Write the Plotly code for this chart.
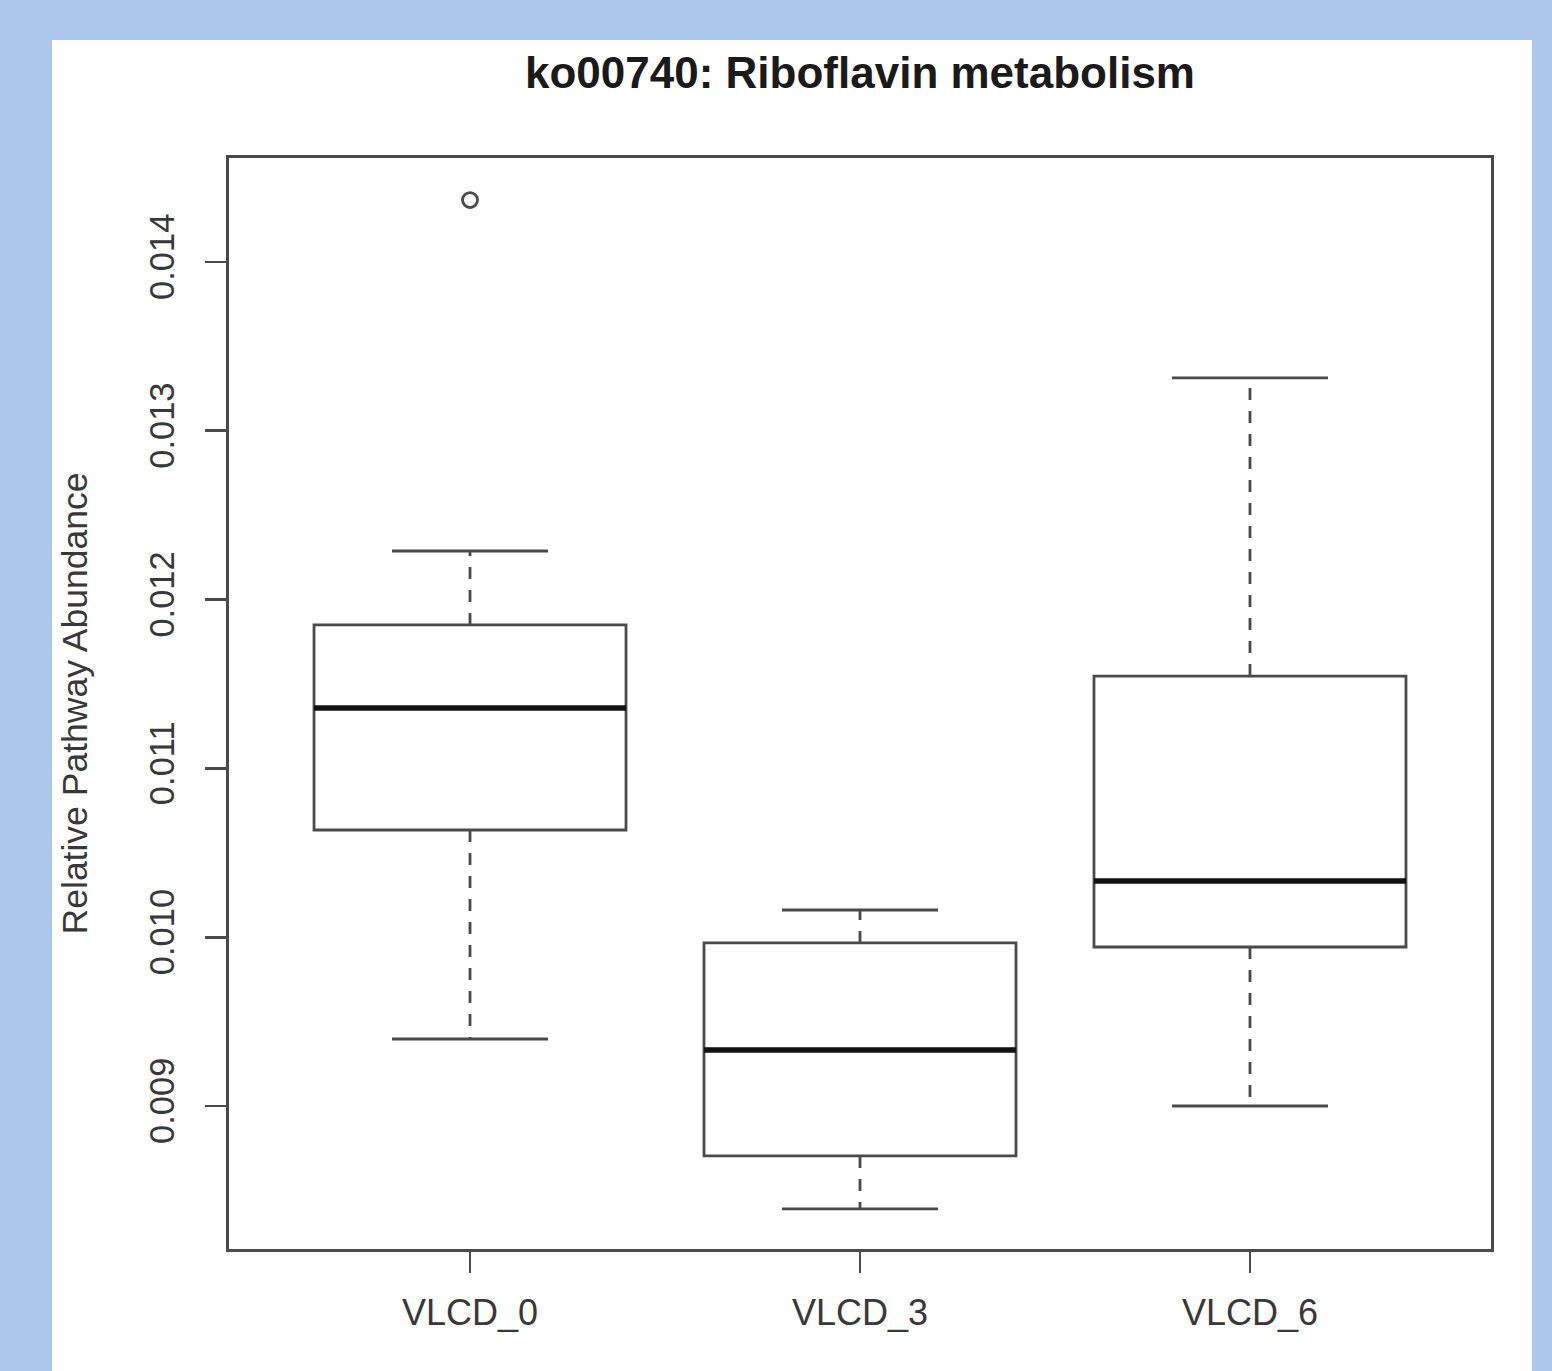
import plotly.graph_objects as go

# ---- data ----
groups = ["VLCD_0", "VLCD_3", "VLCD_6"]
positions = [1, 2, 3]
lower_whisker = [0.009397, 0.008390, 0.009000]
q1 = [0.010635, 0.008704, 0.009942]
median = [0.011358, 0.009332, 0.010333]
q3 = [0.011850, 0.009966, 0.011547]
upper_whisker = [0.012288, 0.010161, 0.013313]
outlier_group = [1]
outlier_value = [0.014367]
y_ticks = [0.009, 0.010, 0.011, 0.012, 0.013, 0.014]

title_text = "ko00740: Riboflavin metabolism"
y_title = "Relative Pathway Abundance"

# ---- styling ----
W, H = 1552, 1371
L, R, T, B = 229, 1491, 158, 1249
BOX_W = 0.8
CAP_HALF = 0.2
LINE_C = "#4a4a4a"
FONT = "Liberation Sans, Arial, Helvetica, sans-serif"

fig = go.Figure()

for i, g in enumerate(groups):
    fig.add_trace(go.Box(
        x=[positions[i]], q1=[q1[i]], median=[median[i]], q3=[q3[i]],
        lowerfence=[q1[i]], upperfence=[q3[i]],
        width=BOX_W, whiskerwidth=0,
        fillcolor="white", line=dict(color=LINE_C, width=2.8),
        boxpoints=False, showlegend=False, hoverinfo="skip", name=g,
    ))

for i, g in enumerate(groups):
    p = positions[i]
    # dashed whiskers
    fig.add_trace(go.Scatter(
        x=[p, p, None, p, p],
        y=[q3[i], upper_whisker[i], None, q1[i], lower_whisker[i]],
        mode="lines", line=dict(color=LINE_C, width=2.8, dash="12px,11px"),
        showlegend=False, hoverinfo="skip",
    ))
    # caps
    fig.add_trace(go.Scatter(
        x=[p - CAP_HALF, p + CAP_HALF, None, p - CAP_HALF, p + CAP_HALF],
        y=[upper_whisker[i], upper_whisker[i], None, lower_whisker[i], lower_whisker[i]],
        mode="lines", line=dict(color=LINE_C, width=2.8),
        showlegend=False, hoverinfo="skip",
    ))
    # thick median
    fig.add_trace(go.Scatter(
        x=[p - BOX_W / 2, p + BOX_W / 2], y=[median[i], median[i]],
        mode="lines", line=dict(color="#111111", width=5.5),
        showlegend=False, hoverinfo="skip",
    ))

fig.add_trace(go.Scatter(
    x=outlier_group, y=outlier_value, mode="markers",
    marker=dict(symbol="circle-open", size=15, color=LINE_C, line=dict(width=2.8, color=LINE_C)),
    showlegend=False, hoverinfo="skip",
))

pw, ph = R - L, B - T
fig.add_shape(type="rect", xref="paper", yref="paper",
              x0=(52 - L) / pw, x1=(1532 - L) / pw,
              y0=-(H - B) / ph - 0.05, y1=(B - 40) / ph,
              fillcolor="white", line=dict(width=0), layer="below")

fig.update_layout(
    width=W, height=H,
    margin=dict(l=L, r=W - R, t=T, b=H - B, pad=0),
    paper_bgcolor="#adc8ec", plot_bgcolor="white",
    font=dict(family=FONT, size=34, color="#333333"),
    title=dict(text=f"<b>{title_text}</b>", x=0.5, xref="paper", xanchor="center",
               y=1 - 73 / H, yref="container", yanchor="middle",
               font=dict(family=FONT, size=44, color="#1a1a1a")),
    showlegend=False,
)

fig.update_xaxes(
    range=[0.382, 3.618], tickvals=positions, ticktext=groups,
    showgrid=False, zeroline=False,
    showline=True, linecolor=LINE_C, linewidth=2.8, mirror=True,
    ticks="outside", ticklen=21, tickwidth=2.8, tickcolor=LINE_C,
    ticklabelstandoff=9,
    tickfont=dict(size=36, color="#383838"),
)
y_lo = 0.009 - (B - 1106) / 168.8 * 0.001
y_hi = 0.014 + (262 - T) / 168.8 * 0.001
fig.update_yaxes(
    range=[y_lo, y_hi], tickvals=y_ticks, tickformat=".3f",
    showgrid=False, zeroline=False,
    showline=True, linecolor=LINE_C, linewidth=2.8, mirror=True,
    ticks="outside", ticklen=21, tickwidth=2.8, tickcolor=LINE_C,
    ticklabelstandoff=17,
    tickangle=-90, tickfont=dict(size=34.5, color="#383838"),
    title=dict(text=y_title, standoff=45, font=dict(size=35.5, color="#383838")),
)

fig.write_html(
    "out.html",
    config={"displayModeBar": False, "staticPlot": True},
    post_script="document.body.style.margin='0';document.body.style.overflow='hidden';",
)
